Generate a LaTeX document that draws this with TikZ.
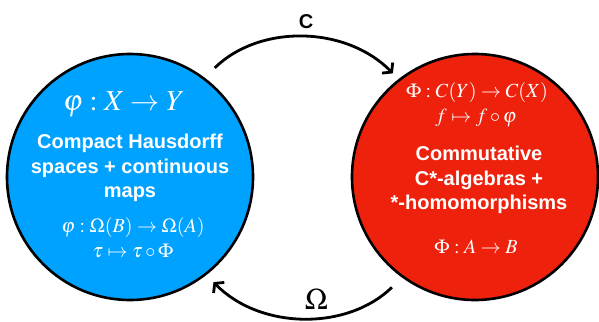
\documentclass[tikz,border=0pt]{standalone}
\usepackage{mathptmx}
\usepackage{fontspec}
\setmainfont{Liberation Serif}
\setsansfont{Liberation Sans}
\usetikzlibrary{arrows.meta}
\definecolor{spaceblue}{HTML}{00A2FF}
\definecolor{algebrared}{HTML}{EE220C}

\begin{document}
\begin{tikzpicture}[x=1pt,y=-1pt,
  disc/.style={circle,draw=black,line width=2.6pt,minimum size=246pt,inner sep=0pt},
  functor/.style={line width=2.8pt,-{Straight Barb[length=6pt,width=15pt]}},
  words/.style={text=white,font=\sffamily\bfseries\fontsize{20}{24.5}\selectfont,align=center},
  maths/.style={text=white,anchor=base,font=\fontsize{20}{24}\selectfont}]
  \useasboundingbox (0,0) rectangle (599,321);
  \node[disc,fill=spaceblue] (spaces) at (130,177) {};
  \node[disc,fill=algebrared] (algebras) at (475,177) {};
  % left disc
  \node[maths,font=\fontsize{29}{32}\selectfont] (mapXY) at (124,110) {$\varphi : X \to Y$};
  \node[words] (spacesText) at (130,168) {Compact Hausdorff\\spaces + continuous\\maps};
  \node[maths] (mapOmega) at (133,232) {$\varphi : \Omega(B) \to \Omega(A)$};
  \node[maths] (mapTau) at (133,257) {$\tau \mapsto \tau \circ \Phi$};
  % right disc
  \node[maths] (mapC) at (477,97) {$\Phi : C(Y) \to C(X)$};
  \node[maths] (mapF) at (476,122) {$f \mapsto f \circ \varphi$};
  \node[words] (algebrasText) at (479,180) {Commutative\\C*-algebras +\\*-homomorphisms};
  \node[maths] (mapAB) at (476,253) {$\Phi : A \to B$};
  % functors
  \draw[functor,shorten <=14pt,shorten >=8pt] (spaces.53) to[bend left=45]
    node[pos=0.52,above=5pt,font=\sffamily\bfseries\fontsize{20}{20}\selectfont] (labelC) {C} (algebras.128);
  \draw[functor,shorten <=14pt,shorten >=10pt] (algebras.234) to[bend left=45]
    node[pos=0.44,above=2pt,font=\fontsize{30}{30}\selectfont] (labelOmega) {$\Omega$} (spaces.-52);
\end{tikzpicture}
\end{document}
